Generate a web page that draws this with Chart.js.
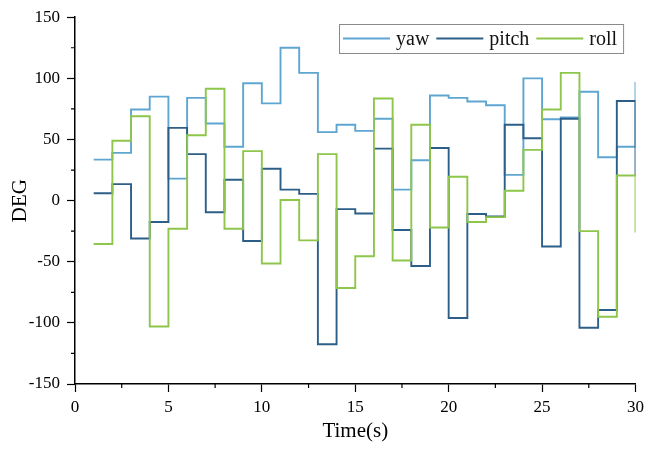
<!DOCTYPE html>
<html>
<head>
<meta charset="utf-8">
<script src="https://cdn.jsdelivr.net/npm/chart.js@4/dist/chart.umd.min.js"></script>
<style>
  html,body{margin:0;padding:0;background:#fff;}
  #wrap{width:649px;height:450px;}
</style>
</head>
<body>
<div id="wrap"><canvas id="grafico" width="649" height="450"></canvas></div>
<script>
// dati (un valore per secondo)
var tempi = [1,2,3,4,5,6,7,8,9,10,11,12,13,14,15,16,17,18,19,20,21,22,23,24,25,26,27,28,29,30];
var yaw   = [33.5,39,74.5,85,18,84,63,44,96,79.5,125,104.5,56,62,57,67,9,33,86,84,81,78,21,100,66.5,68,89,35.5,44,97];
var pitch = [6,13.5,-31,-17.5,59.5,38,-9.5,17,-33,26,9,5.5,-117.5,-7,-10.5,42.5,-24,-53.5,43,-96,-11,-13,62,51,-37.5,67,-104,-89.5,81.5,20];
var roll  = [-35.5,49,69,-103,-23,53.5,91.5,-23,40.5,-51.5,0.5,-32.5,38,-71.5,-45.5,83.5,-49,62,-22,19.5,-17.5,-13.5,8,41.5,74.5,104.5,-25,-95,20.5,-26];
var nomi  = ["yaw","pitch","roll"];
var colori = ["#5ea6d1","#2c5e88","#8dc64a"];

var serif = "'Liberation Serif','Times New Roman',serif";

function punti(valori){
    var p=[];
    for(var i=0;i<tempi.length;i++) p.push({x:tempi[i],y:valori[i]});
    return p;
}

//tacche secondarie sugli assi (2.5 s e 25 gradi)
var tacchePlugin = {
    id:'tacche',
    afterDraw:function(chart){
        var ctx=chart.ctx, sx=chart.scales.x, sy=chart.scales.y;
        ctx.save();
        ctx.strokeStyle='#000';
        ctx.lineWidth=1.2;
        ctx.beginPath();
        for(var v=2.5;v<30;v+=5){
            var px=sx.getPixelForValue(v);
            ctx.moveTo(px,sy.bottom);
            ctx.lineTo(px,sy.bottom+4);
        }
        for(var w=-125;w<150;w+=50){
            var py=sy.getPixelForValue(w);
            ctx.moveTo(sx.left-4,py);
            ctx.lineTo(sx.left,py);
        }
        ctx.stroke();
        ctx.restore();
    }
};

//legenda dentro il grafico, con cornice grigia
var legendaPlugin = {
    id:'legendaBox',
    afterDraw:function(chart){
        var ctx=chart.ctx;
        var x0=339, y0=24, h=29, ym=y0+h/2;
        ctx.save();
        ctx.font="20px "+serif;
        var x=x0+4;
        var items=[];
        chart.data.datasets.forEach(function(ds){
            var tw=ctx.measureText(ds.label).width;
            items.push({x:x,ds:ds,tw:tw});
            x+=47+6+tw+7;
        });
        var w=x-7+6-x0;
        ctx.fillStyle='#fff';
        ctx.fillRect(x0,y0,w,h);
        ctx.strokeStyle='#8a8a8a';
        ctx.lineWidth=1;
        ctx.strokeRect(x0+0.5,y0+0.5,w,h);
        items.forEach(function(it){
            ctx.strokeStyle=it.ds.borderColor;
            ctx.lineWidth=1.8;
            ctx.beginPath();
            ctx.moveTo(it.x,ym);
            ctx.lineTo(it.x+47,ym);
            ctx.stroke();
            ctx.fillStyle='#111';
            ctx.textBaseline='middle';
            ctx.fillText(it.ds.label,it.x+53,ym+1);
        });
        ctx.restore();
    }
};

var serie=[yaw,pitch,roll];
var ordine=[2,1,0];
var datasets=[];
for(var k=0;k<3;k++){
    datasets.push({
        label:nomi[k],
        data:punti(serie[k]),
        borderColor:colori[k],
        backgroundColor:colori[k],
        borderWidth:1.9,
        pointRadius:0,
        stepped:'before',
        fill:false,
        order:ordine[k]
    });
}

new Chart(document.getElementById('grafico').getContext('2d'),{
    type:'line',
    data:{datasets:datasets},
    options:{
        responsive:false,
        animation:false,
        layout:{padding:{top:16,right:12,left:0,bottom:0}},
        plugins:{legend:{display:false},tooltip:{enabled:false}},
        scales:{
            x:{
                type:'linear',min:0,max:30,
                ticks:{stepSize:5,color:'#000',font:{family:serif,size:17},padding:5,maxRotation:0},
                grid:{drawOnChartArea:false,color:'#000',tickLength:8,tickWidth:1.2},
                border:{color:'#000',width:1.5},
                title:{display:true,text:'Time(s)',color:'#000',font:{family:serif,size:21},padding:{top:0,bottom:6}},
                afterFit:function(s){s.height=66;}
            },
            y:{
                min:-150,max:150,
                ticks:{stepSize:50,color:'#000',font:{family:serif,size:17},padding:7},
                grid:{drawOnChartArea:false,color:'#000',tickLength:8,tickWidth:1.2},
                border:{color:'#000',width:1.5},
                title:{display:true,text:'DEG',color:'#000',font:{family:serif,size:21},padding:{top:8,bottom:0}},
                afterFit:function(s){s.width=75;}
            }
        }
    },
    plugins:[tacchePlugin,legendaPlugin]
});
</script>
</body>
</html>
